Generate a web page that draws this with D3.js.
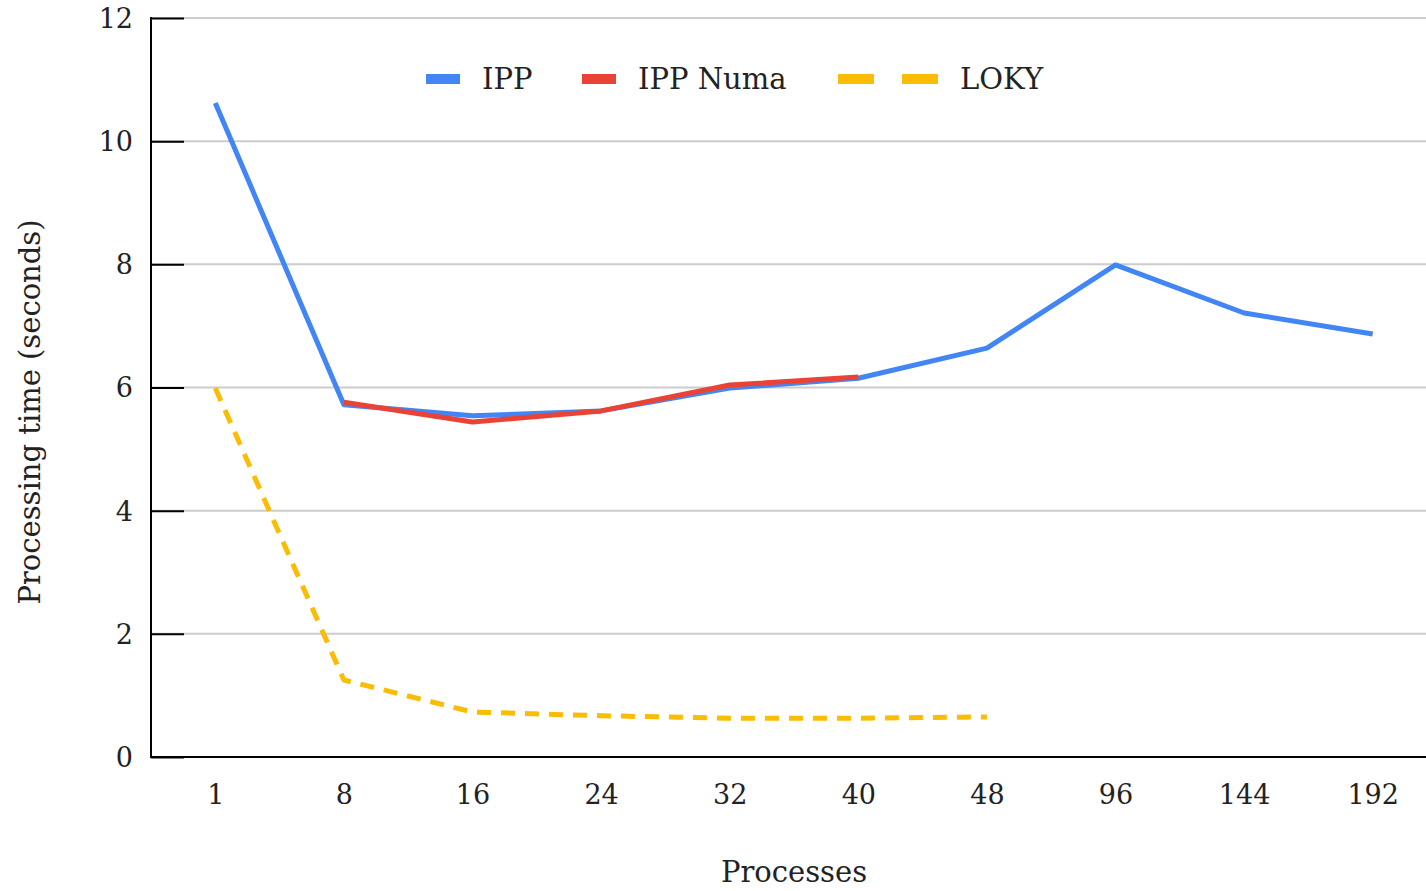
<!DOCTYPE html>
<html>
<head>
<meta charset="utf-8">
<script src="https://cdn.jsdelivr.net/npm/d3@7"></script>
<style>
  html, body { margin: 0; padding: 0; background: #fff; }
  svg { display: block; }
  text { font-family: "DejaVu Serif", "Liberation Serif", serif; fill: #222; }
</style>
</head>
<body>
<svg id="chart" width="1426" height="891"></svg>
<script>
const categories = ["1", "8", "16", "24", "32", "40", "48", "96", "144", "192"];
const ippValues = [10.62, 5.72, 5.54, 5.62, 5.99, 6.15, 6.64, 7.99, 7.21, 6.87];
const ippNumaValues = [null, 5.76, 5.44, 5.62, 6.04, 6.17, null, null, null, null];
const lokyValues = [5.99, 1.25, 0.73, 0.67, 0.63, 0.63, 0.65, null, null, null];
const yTicks = [0, 2, 4, 6, 8, 10, 12];
const seriesNames = ["IPP", "IPP Numa", "LOKY"];
const seriesColors = ["#4285F4", "#EA4335", "#FBBC04"];

const svg = d3.select("#chart");
const plotLeft = 151, plotRight = 1437, plotTop = 18, plotBottom = 757;

const x = d3.scalePoint().domain(categories).range([plotLeft, plotRight]).padding(0.5);
const y = d3.scaleLinear().domain([0, 12]).range([plotBottom, plotTop]);

// gridlines
svg.append("g").selectAll("line").data(yTicks.filter(d => d > 0)).join("line")
  .attr("x1", plotLeft).attr("x2", 1426)
  .attr("y1", d => y(d)).attr("y2", d => y(d))
  .attr("stroke", "#cccccc").attr("stroke-width", 2);

// y axis with inner ticks
const yAxis = d3.axisLeft(y).tickValues(yTicks).tickSize(-33).tickPadding(18).tickFormat(d3.format("d"));
const gy = svg.append("g").attr("transform", `translate(${plotLeft},0)`).call(yAxis);
gy.select(".domain").remove();
gy.selectAll(".tick line").attr("stroke", "#000").attr("stroke-width", 2);
gy.selectAll(".tick text").attr("font-size", 27).attr("fill", "#222")
  .attr("font-family", "DejaVu Serif").attr("dy", "0.35em");
svg.append("line").attr("x1", plotLeft).attr("x2", plotLeft).attr("y1", plotTop - 1).attr("y2", plotBottom + 1)
  .attr("stroke", "#000").attr("stroke-width", 2);

// x axis
const xAxis = d3.axisBottom(x).tickSize(0).tickPadding(28);
const gx = svg.append("g").attr("transform", `translate(0,${plotBottom})`).call(xAxis);
gx.select(".domain").remove();
gx.selectAll(".tick text").attr("font-size", 27).attr("fill", "#222").attr("font-family", "DejaVu Serif");
svg.append("line").attr("x1", plotLeft - 1).attr("x2", 1426).attr("y1", plotBottom).attr("y2", plotBottom)
  .attr("stroke", "#000").attr("stroke-width", 2);

// lines
const allSeries = [ippValues, ippNumaValues, lokyValues];
const lineGen = d3.line()
  .defined(d => d.v !== null)
  .x(d => x(d.c)).y(d => y(d.v));

allSeries.forEach((vals, i) => {
  const data = categories.map((c, j) => ({ c, v: vals[j] }));
  svg.append("path").datum(data)
    .attr("fill", "none")
    .attr("stroke", seriesColors[i])
    .attr("stroke-width", 5)
    .attr("stroke-linejoin", "round")
    .attr("stroke-dasharray", i === 2 ? "14,10" : null)
    .attr("d", lineGen);
});

// legend
const legend = svg.append("g");
const legendItems = [
  { name: seriesNames[0], color: seriesColors[0], x: 426, dashed: false, tx: 482 },
  { name: seriesNames[1], color: seriesColors[1], x: 582, dashed: false, tx: 638 },
  { name: seriesNames[2], color: seriesColors[2], x: 838, dashed: true, tx: 960 }
];
legendItems.forEach(it => {
  if (it.dashed) {
    legend.append("rect").attr("x", it.x).attr("y", 74).attr("width", 36).attr("height", 10).attr("fill", it.color);
    legend.append("rect").attr("x", it.x + 64).attr("y", 74).attr("width", 36).attr("height", 10).attr("fill", it.color);
  } else {
    legend.append("rect").attr("x", it.x).attr("y", 74).attr("width", 34).attr("height", 10).attr("fill", it.color);
  }
  legend.append("text").attr("x", it.tx).attr("y", 79).attr("dy", "0.35em")
    .attr("font-size", 29).text(it.name);
});

// axis titles
svg.append("text").attr("x", 794).attr("y", 872).attr("dy", "0.35em").attr("text-anchor", "middle")
  .attr("font-size", 29).text("Processes");
svg.append("text").attr("transform", "translate(30,412) rotate(-90)").attr("dy", "0.35em")
  .attr("text-anchor", "middle").attr("font-size", 29).text("Processing time (seconds)");
</script>
</body>
</html>
